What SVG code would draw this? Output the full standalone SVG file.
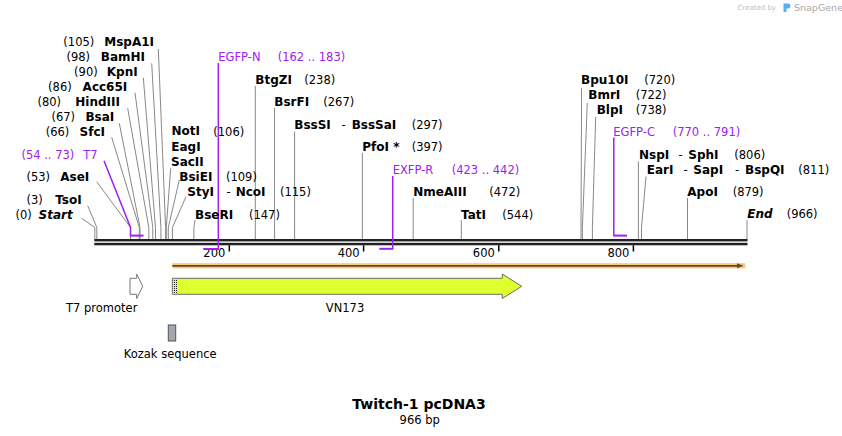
<svg xmlns="http://www.w3.org/2000/svg" width="842" height="436" viewBox="0 0 842 436">
<style>
text{font-family:"DejaVu Sans",Verdana,sans-serif}
.b{font-weight:bold;font-size:12px;fill:#000}
.bi{font-weight:bold;font-style:italic;font-size:12px;fill:#000}
.n{font-size:11.5px;fill:#000}
.p{font-size:11.5px;fill:#a020f0}
.ln{fill:none;stroke:#888;stroke-width:1}
.pl{fill:none;stroke:#a020f0;stroke-width:1.5}
.pb{fill:none;stroke:#a020f0;stroke-width:2}
.tk{stroke:#000;stroke-width:1.5}
.e{text-anchor:end}
.m{text-anchor:middle}
</style>
<defs>
<pattern id="dots" width="2" height="2" patternUnits="userSpaceOnUse">
<rect width="2" height="2" fill="#dfff2f"/>
<rect width="1" height="1" fill="#222"/>
</pattern>
</defs>
<rect width="842" height="436" fill="#fff"/>

<g id="watermark">
<text x="776" y="10" class="e" style="font-size:7px;fill:#c0c0c0">Created by</text>
<path d="M783.5 3.5 h5 q2 0 2 2.5 q0 2.5 -2 2.5 h-2 v3.5 h-3 z" fill="#5aaef0"/>
<text x="794" y="11" style="font-size:9.5px;fill:#a8a8a8">SnapGene</text>
</g>

<g id="backbone">
<rect x="94.3" y="239" width="653.2" height="2.4" fill="#222"/>
<rect x="94.3" y="242.8" width="653.2" height="2.5" fill="#222"/>
<line class="tk" x1="229.3" y1="245.3" x2="229.3" y2="251.5"/>
<line class="tk" x1="363.6" y1="245.3" x2="363.6" y2="251.5"/>
<line class="tk" x1="498.8" y1="245.3" x2="498.8" y2="251.5"/>
<line class="tk" x1="633.4" y1="245.3" x2="633.4" y2="251.5"/>
<text class="n e" x="225.3" y="256.5">200</text>
<text class="n e" x="359.6" y="256.5">400</text>
<text class="n e" x="494.8" y="256.5">600</text>
<text class="n e" x="629.4" y="256.5">800</text>
</g>

<g id="connectors">
<polyline class="ln" points="158.3,49 165.6,227.5 165.6,239"/>
<polyline class="ln" points="151.7,63.3 160.9,227.5 160.9,239"/>
<polyline class="ln" points="143.3,77.7 155.5,227.5 155.5,239"/>
<polyline class="ln" points="135,92.7 152.8,227.5 152.8,239"/>
<polyline class="ln" points="127.7,108.3 148.8,227.5 148.8,239"/>
<polyline class="ln" points="119.3,123.3 140,227.5 140,239"/>
<polyline class="ln" points="111.7,137.3 139.3,227.5 139.3,239"/>
<polyline class="ln" points="96.7,181.7 130.5,227.5 130.5,239"/>
<polyline class="ln" points="87.7,205.7 96.8,227.5 96.8,239"/>
<polyline class="ln" points="81.7,218.3 94.8,227.5 94.8,239"/>
<polyline class="ln" points="170.7,168.3 166.3,227.5 166.3,239"/>
<polyline class="ln" points="179.3,180 168.3,227.5 168.3,239"/>
<polyline class="ln" points="186,196.7 172.4,227.5 172.4,239"/>
<polyline class="ln" points="195,220 193.9,227.5 193.9,239"/>
<line class="ln" x1="255.3" y1="86" x2="255.3" y2="239"/>
<line class="ln" x1="274.6" y1="108" x2="274.6" y2="239"/>
<line class="ln" x1="294.6" y1="131.5" x2="294.6" y2="239"/>
<line class="ln" x1="362.4" y1="153" x2="362.4" y2="239"/>
<line class="ln" x1="413.2" y1="198" x2="413.2" y2="239"/>
<line class="ln" x1="461.3" y1="220" x2="461.3" y2="239"/>
<polyline class="ln" points="581.6,88 581,227.5 581,239"/>
<polyline class="ln" points="587.3,103 582.4,227.5 582.4,239"/>
<polyline class="ln" points="595.7,117 592.4,227.5 592.4,239"/>
<line class="ln" x1="638.4" y1="161.5" x2="638.4" y2="239"/>
<polyline class="ln" points="646,176.5 641.5,227.5 641.5,239"/>
<line class="ln" x1="687.5" y1="198" x2="687.5" y2="239"/>
<line class="ln" x1="747" y1="220" x2="747" y2="239"/>
</g>

<g id="primers">
<polyline class="pl" points="104,160.7 130.5,227.5 130.5,235.6"/>
<line class="pb" x1="129.8" y1="235.6" x2="143.5" y2="235.6"/>
<line class="pl" x1="218.3" y1="63" x2="218.3" y2="249"/>
<line class="pb" x1="203.3" y1="249" x2="219" y2="249"/>
<line class="pl" x1="392.7" y1="176" x2="392.7" y2="248.8"/>
<line class="pb" x1="379.3" y1="248.8" x2="393.4" y2="248.8"/>
<line class="pl" x1="613.8" y1="137.5" x2="613.8" y2="235.6"/>
<line class="pb" x1="613.1" y1="235.6" x2="627" y2="235.6"/>
</g>

<g id="site-MspA1I"><text class="n e" x="94.3" y="46">(105)</text><text class="b e" x="154" y="46">MspA1I</text></g>
<g id="site-BamHI"><text class="n e" x="90" y="61">(98)</text><text class="b e" x="145" y="61">BamHI</text></g>
<g id="site-KpnI"><text class="n e" x="97.7" y="76">(90)</text><text class="b e" x="137.7" y="76">KpnI</text></g>
<g id="site-Acc65I"><text class="n e" x="71.7" y="91">(86)</text><text class="b e" x="127.3" y="91">Acc65I</text></g>
<g id="site-HindIII"><text class="n e" x="61" y="106">(80)</text><text class="b e" x="120" y="106">HindIII</text></g>
<g id="site-BsaI"><text class="n e" x="75" y="121">(67)</text><text class="b e" x="114.3" y="121">BsaI</text></g>
<g id="site-SfcI"><text class="n e" x="69.3" y="136">(66)</text><text class="b e" x="105" y="136">SfcI</text></g>
<g id="primer-T7"><text class="p e" x="74.3" y="159.3">(54 .. 73)</text><text class="p e" x="97.7" y="159.3">T7</text></g>
<g id="site-AseI"><text class="n e" x="50" y="181">(53)</text><text class="b e" x="89.3" y="181">AseI</text></g>
<g id="site-TsoI"><text class="n e" x="42.7" y="204.3">(3)</text><text class="b e" x="81.7" y="204.3">TsoI</text></g>
<g id="site-Start"><text class="n e" x="31.7" y="219.3">(0)</text><text class="bi e" x="72.7" y="219.3">Start</text></g>

<g id="site-NotI"><text class="b" x="171.5" y="135">NotI</text><text class="b" x="171.3" y="150.7">EagI</text><text class="b" x="171" y="165.7">SacII</text><text class="n" x="213.3" y="135.5">(106)</text></g>
<g id="site-BsiEI"><text class="b" x="179.3" y="180.7">BsiEI</text><text class="n" x="226" y="180.7">(109)</text></g>
<g id="site-StyI"><text class="b" x="187.3" y="196.3">StyI</text><text class="n" x="226.5" y="196.3">-</text><text class="b" x="235.7" y="196.3">NcoI</text><text class="n" x="280" y="196.3">(115)</text></g>
<g id="site-BseRI"><text class="b" x="195" y="219">BseRI</text><text class="n" x="249" y="219">(147)</text></g>

<g id="primer-EGFP-N"><text class="p" x="218.3" y="60.7">EGFP-N</text><text class="p" x="277.7" y="60.7">(162 .. 183)</text></g>
<g id="site-BtgZI"><text class="b" x="255.3" y="84">BtgZI</text><text class="n" x="304.3" y="84">(238)</text></g>
<g id="site-BsrFI"><text class="b" x="274.3" y="105.7">BsrFI</text><text class="n" x="323.3" y="105.7">(267)</text></g>
<g id="site-BssSI"><text class="b" x="294.3" y="129">BssSI</text><text class="n" x="341.5" y="129">-</text><text class="b" x="351.7" y="129">BssSaI</text><text class="n" x="411.7" y="129">(297)</text></g>
<g id="site-PfoI"><text class="b" x="362.3" y="150.7">PfoI *</text><text class="n" x="411.7" y="150.7">(397)</text></g>
<g id="primer-EXFP-R"><text class="p" x="392.7" y="174">EXFP-R</text><text class="p" x="451.7" y="174">(423 .. 442)</text></g>
<g id="site-NmeAIII"><text class="b" x="413.3" y="195.7">NmeAIII</text><text class="n" x="489.3" y="195.7">(472)</text></g>
<g id="site-TatI"><text class="b" x="461" y="219">TatI</text><text class="n" x="502.3" y="219">(544)</text></g>

<g id="site-Bpu10I"><text class="b" x="581" y="84">Bpu10I</text><text class="n" x="644.3" y="84">(720)</text></g>
<g id="site-BmrI"><text class="b" x="588.3" y="99">BmrI</text><text class="n" x="635.7" y="99">(722)</text></g>
<g id="site-BlpI"><text class="b" x="596.7" y="114">BlpI</text><text class="n" x="635.7" y="114">(738)</text></g>
<g id="primer-EGFP-C"><text class="p" x="613.3" y="135.7">EGFP-C</text><text class="p" x="672.7" y="135.7">(770 .. 791)</text></g>
<g id="site-NspI"><text class="b" x="639" y="159">NspI</text><text class="n" x="678.5" y="159">-</text><text class="b" x="688.3" y="159">SphI</text><text class="n" x="734.3" y="159">(806)</text></g>
<g id="site-EarI"><text class="b" x="646.7" y="174">EarI</text><text class="n" x="683.5" y="174">-</text><text class="b" x="693.3" y="174">SapI</text><text class="n" x="735" y="174">-</text><text class="b" x="745" y="174">BspQI</text><text class="n" x="798.3" y="174">(811)</text></g>
<g id="site-ApoI"><text class="b" x="687.3" y="195.7">ApoI</text><text class="n" x="732.7" y="195.7">(879)</text></g>
<g id="site-End"><text class="bi" x="747.3" y="218.3">End</text><text class="n" x="786.7" y="218.3">(966)</text></g>

<g id="feature-orf">
<rect x="172.3" y="263.2" width="573" height="5.2" fill="#fbc97c"/>
<line x1="172.3" y1="265.8" x2="739" y2="265.8" stroke="#5e4a30" stroke-width="1.8"/>
<polygon points="737,263.3 743.5,265.8 737,268.3" fill="#5e4a30"/>
</g>

<g id="feature-VN173">
<polygon points="172.3,278.3 502.3,278.3 502.3,274 521.7,286.3 502.3,298.5 502.3,294.3 172.3,294.3" fill="#dfff2f" stroke="#6b6b6b" stroke-width="1"/>
<rect x="172.8" y="278.8" width="4.5" height="15" fill="url(#dots)"/>
<text class="n m" x="345" y="311.7">VN173</text>
</g>

<g id="feature-T7-promoter">
<polygon points="130,278.3 136.7,278.3 136.7,274 142.7,286.3 136.7,298.5 136.7,294.3 130,294.3" fill="#fff" stroke="#777" stroke-width="1"/>
<text class="n m" x="101.7" y="311.7">T7 promoter</text>
</g>

<g id="feature-Kozak">
<rect x="168.3" y="325" width="7.4" height="16" fill="#a3a7ae" stroke="#555" stroke-width="1"/>
<text class="n m" x="170.2" y="358.3">Kozak sequence</text>
</g>

<g id="title">
<text class="m" x="419" y="408.8" style="font-weight:bold;font-size:14px">Twitch-1 pcDNA3</text>
<text class="n m" x="419.7" y="423.5">966 bp</text>
</g>
</svg>
